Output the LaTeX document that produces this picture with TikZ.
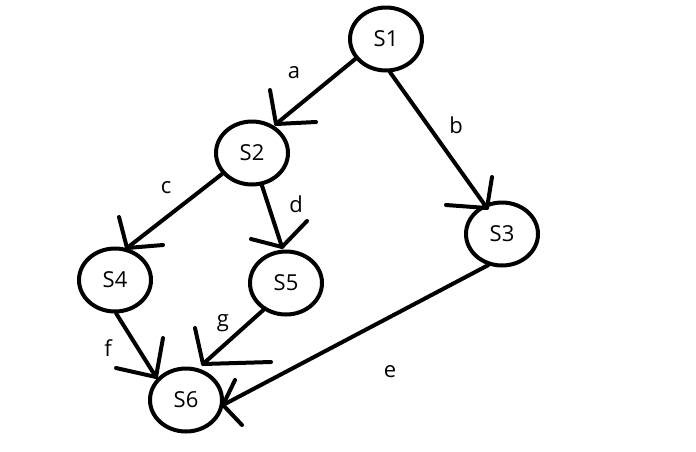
\documentclass[tikz,border=0pt]{standalone}
\usepackage{fontspec}
\setmainfont{Open Sans}
\usetikzlibrary{shapes.geometric}
\begin{document}
\begin{tikzpicture}[x=1pt,y=-1pt,
  state/.style={draw, ellipse, line width=4pt, inner sep=0pt, minimum width=72pt, minimum height=63pt, font=\fontsize{22}{25}\selectfont},
  edge/.style={line width=4pt, line cap=round, line join=round},
  lbl/.style={font=\fontsize{22}{25}\selectfont, inner sep=0pt}]
\useasboundingbox (0,0) rectangle (696,451);
\node[state] (S1) at (386,39) {S1};
\node[state] (S2) at (252,153) {S2};
\node[state] (S3) at (502,234) {S3};
\node[state] (S4) at (115,280) {S4};
\node[state] (S5) at (286,283) {S5};
\node[state] (S6) at (186,400) {S6};
% tips
\coordinate (ta) at (276,124);
\coordinate (tb) at (487,208);
\coordinate (tc) at (127,248);
\coordinate (td) at (282,247);
\coordinate (te) at (223,405);
\coordinate (tf) at (156,377);
\coordinate (tg) at (203,364);
% connectors
\draw[edge] (S1.213) -- (ta);
\draw[edge] (S1.277) -- (tb);
\draw[edge] (S2.215) -- (tc);
\draw[edge] (S2.287) -- (td);
\draw[edge] (S3.246) -- (te);
\draw[edge] (S4.272) -- (tf);
\draw[edge] (S5.230) -- (tg);
% hand-drawn heads
\draw[edge] (270,90) -- (ta) -- (316,122);
\draw[edge] (492,177) -- (tb) -- (446,205);
\draw[edge] (119,217) -- (tc) -- (163,245);
\draw[edge] (307,221) -- (td) -- (251,239);
\draw[edge] (235,380) -- (te) -- (242,425);
\draw[edge] (163,338) -- (tf) -- (116,368);
\draw[edge] (195,328) -- (tg) -- (271,362);
% labels
\node[lbl] (la) at (294,73) {a};
\node[lbl] (lb) at (456,125) {b};
\node[lbl] (lc) at (166,188) {c};
\node[lbl] (ld) at (296,204) {d};
\node[lbl] (le) at (390,372) {e};
\node[lbl] (lf) at (108,348) {f};
\node[lbl] (lg) at (223,323) {g};
\end{tikzpicture}
\end{document}
